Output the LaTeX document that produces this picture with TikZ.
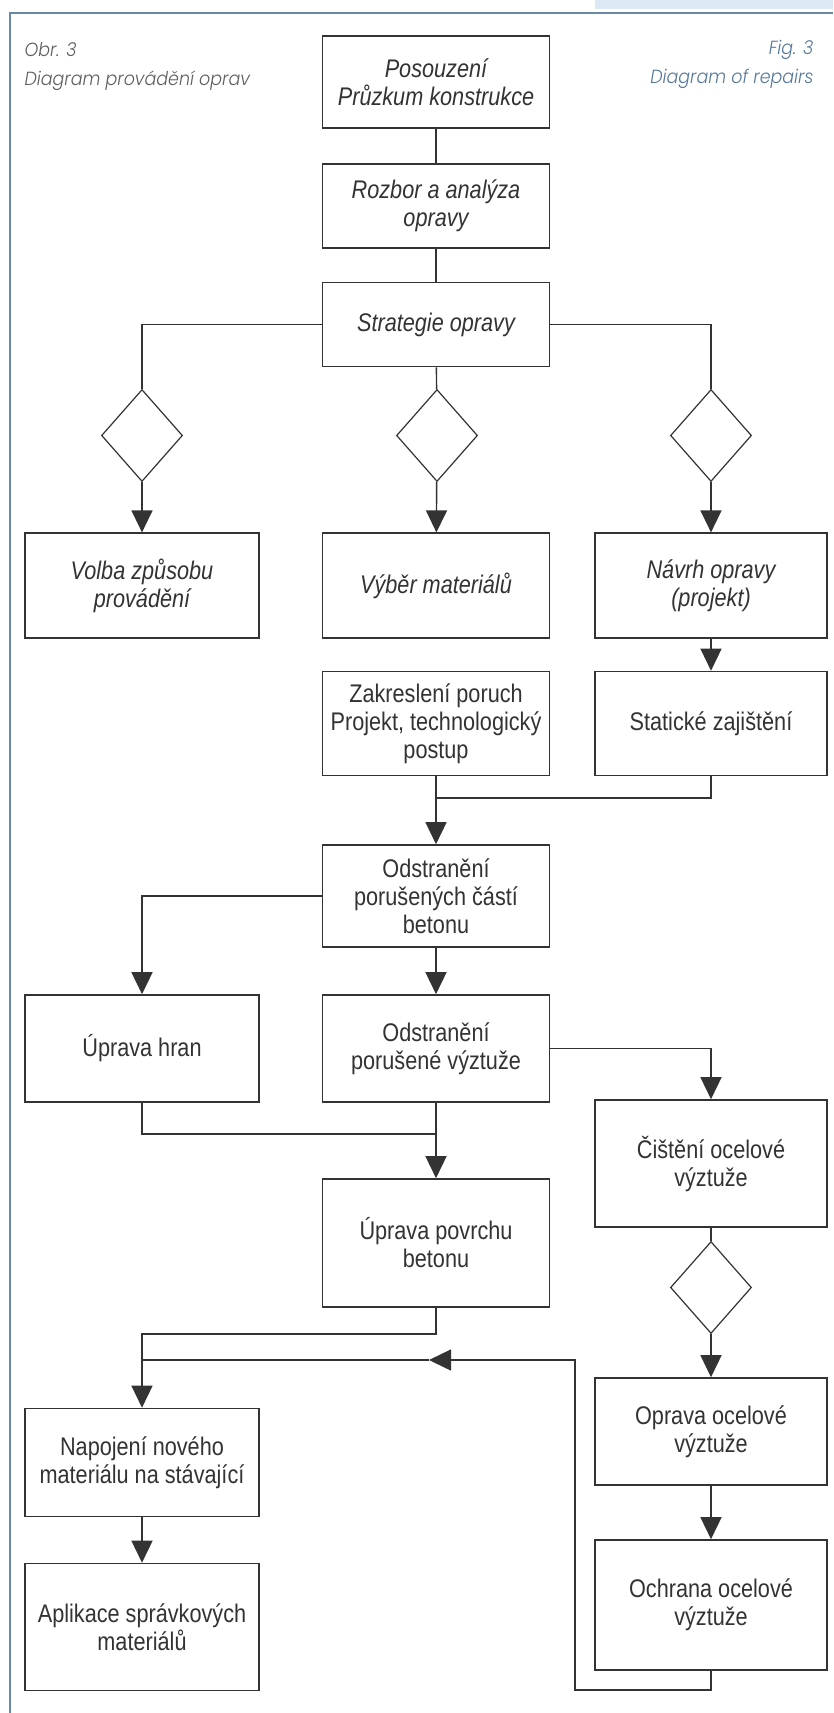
\documentclass[tikz,border=0pt]{standalone}
\usepackage{fontspec}
\setmainfont{Liberation Sans}
\newfontfamily\boxfont{Liberation Sans}[FakeStretch=0.85]
\newfontfamily\capfont{Poppins Light Italic}[FakeStretch=0.92]
\usepackage{tikz}
\usetikzlibrary{arrows.meta,positioning,shapes.geometric}
\definecolor{ink}{HTML}{333333}
\definecolor{framecol}{HTML}{6A89A8}
\definecolor{band}{HTML}{DCE8F3}
\definecolor{capgray}{HTML}{5F5F5F}
\definecolor{capblue}{HTML}{56789A}

\begin{document}
\begin{tikzpicture}[x=1pt, y=-1pt,
  box/.style={draw=ink, line width=1.6pt, text=ink, align=center, inner sep=0pt, font=\boxfont\fontsize{25.5}{28}\selectfont},
  ibox/.style={box, font=\boxfont\fontsize{25.5}{28.5}\selectfont\itshape},
  choice/.style={diamond, draw=ink, line width=1.2pt, minimum width=81pt, minimum height=92pt, inner sep=0pt},
  link/.style={draw=ink, line width=1.4pt},
  flow/.style={link, -{Triangle[width=21pt,length=22pt]}},
  caption/.style={font=\capfont\fontsize{19}{19}\selectfont}]
\useasboundingbox (0,0) rectangle (833,1713);
\fill[white] (0,0) rectangle (833,1713);
% page frame
\fill[band] (595,0) rectangle (833,9);
\draw[framecol, line width=2pt] (10,1713) -- (10,12.5) -- (833,12.5);
\node[caption, anchor=base west, text=capgray] (obr) at (21,56) {Obr. 3};
\node[caption, anchor=base west, text=capgray] (obrtitle) at (21,85) {Diagram provádění oprav};
\node[caption, anchor=base east, text=capblue] (fig) at (817,54) {Fig. 3};
\node[caption, anchor=base east, text=capblue] (figtitle) at (817,83) {Diagram of repairs};

% top of the flow
\node[ibox, minimum width=227pt, minimum height=92pt] (posouzeni) at (436,82) {Posouzení\\Průzkum konstrukce};
\node[ibox, minimum width=227pt, minimum height=84pt] (rozbor) at (436,206) {Rozbor a analýza\\opravy};
\node[ibox, minimum width=227pt, minimum height=84pt] (strategie) at (436,324.5) {Strategie opravy};
\foreach \n/\x in {d1/142, d2/437, d3/711} {
  \node[choice] (\n) at (\x,435.5) {};
}
\node[ibox, minimum width=234pt, minimum height=105pt] (volba) at (142,585.7) {Volba způsobu\\provádění};
\node[ibox, minimum width=227pt, minimum height=105pt] (vyber) at (436,585.7) {Výběr materiálů};
\node[ibox, minimum width=232pt, minimum height=105pt] (navrh) at (711,585.7) {Návrh opravy\\(projekt)};

% repair steps
\node[box, minimum width=227pt, minimum height=104pt] (zakresleni) at (436,723.5) {Zakreslení poruch\\Projekt, technologický\\postup};
\node[box, minimum width=232pt, minimum height=104pt] (staticke) at (711,723.5) {Statické zajištění};
\node[box, minimum width=227pt, minimum height=102pt] (odstraneni) at (436,896) {Odstranění\\porušených částí\\betonu};
\node[box, minimum width=234pt, minimum height=107pt] (hrany) at (142,1048.5) {Úprava hran};
\node[box, minimum width=227pt, minimum height=107pt] (vyztuz) at (436,1048.5) {Odstranění\\porušené výztuže};
\node[box, minimum width=232pt, minimum height=127pt] (cisteni) at (711,1163.5) {Čištění ocelové\\výztuže};
\node[box, minimum width=227pt, minimum height=128pt] (povrch) at (436,1243) {Úprava povrchu\\betonu};
\node[choice] (d4) at (711,1287.5) {};
\node[box, minimum width=232pt, minimum height=107pt] (oprava) at (711,1431.5) {Oprava ocelové\\výztuže};
\node[box, minimum width=232pt, minimum height=130pt] (ochrana) at (711,1605) {Ochrana ocelové\\výztuže};
\node[box, minimum width=234pt, minimum height=108pt] (napojeni) at (142,1462.5) {Napojení nového\\materiálu na stávající};
\node[box, minimum width=234pt, minimum height=127pt] (aplikace) at (142,1627) {Aplikace správkových\\materiálů};

% junctions
\coordinate (m1) at (436,798);
\coordinate (m2) at (436,1134);
\coordinate (m3) at (142,1334);
\coordinate (m4) at (142,1360);
\coordinate (r1) at (575,1690);
\coordinate (r2) at (575,1360);
\coordinate (tip) at (429,1360);

% connectors
\draw[link] (posouzeni) -- (rozbor);
\draw[link] (rozbor) -- (strategie);
\draw[link] (strategie) -- (d2);
\draw[link] (strategie.west) -| (d1.north);
\draw[link] (strategie.east) -| (d3.north);
\foreach \d/\b in {d1/volba, d2/vyber, d3/navrh} {
  \draw[flow] (\d) -- (\b);
}
\draw[flow] (navrh) -- (staticke);
\draw[flow] (zakresleni) -- (odstraneni);
\draw[link] (staticke.south) |- (m1);
\draw[flow] (odstraneni.west) -| (hrany.north);
\draw[flow] (odstraneni) -- (vyztuz);
\draw[flow] (vyztuz.east) -| (cisteni.north);
\draw[link] (hrany.south) |- (m2);
\draw[flow] (vyztuz) -- (povrch);
\draw[link] (cisteni) -- (d4);
\draw[flow] (d4) -- (oprava);
\draw[flow] (oprava) -- (ochrana);
\draw[flow] (povrch.south) |- (m3) -- (napojeni.north);
\draw[flow] (napojeni) -- (aplikace);
\draw[flow] (ochrana.south) |- (r1) -- (r2) -- (tip);
\draw[link] (tip) -- (m4);
\end{tikzpicture}
\end{document}
